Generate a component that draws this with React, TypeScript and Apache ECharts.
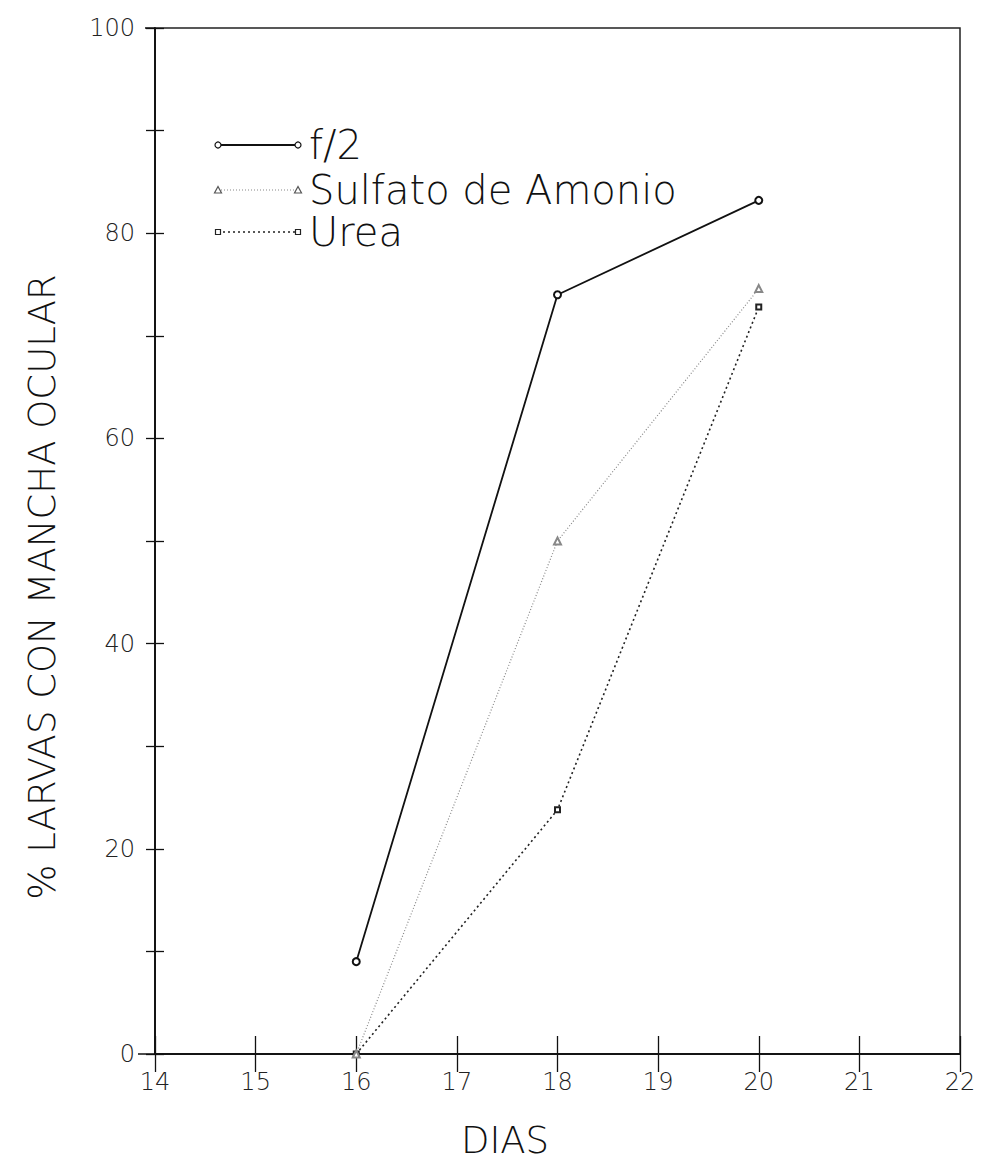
import React, { useEffect, useRef } from "react";
import * as echarts from "echarts";

const days = [16, 18, 20];
const seriesNames = ["f/2", "Sulfato de Amonio", "Urea"];
const f2Values = [9, 74, 83.2];
const sulfatoValues = [0, 50, 74.6];
const ureaValues = [0, 23.8, 72.8];
const xTicks = [14, 15, 16, 17, 18, 19, 20, 21, 22];
const yTicks = [0, 20, 40, 60, 80, 100];
const xTitle = "DIAS";
const yTitle = "% LARVAS CON MANCHA OCULAR";

const FONT = "'DejaVu Sans', sans-serif";

export default function App() {
  const ref = useRef<HTMLDivElement>(null);
  useEffect(() => {
    if (!ref.current) return;
    const chart = echarts.init(ref.current, undefined, { renderer: "svg" });
    const L = 155, R = 960, T = 28, B = 1054;
    const styles = [
      { color: "#111", type: "solid" as any, width: 1.8, symbol: "emptyCircle", size: 7 },
      { color: "#888", type: [1, 2] as any, width: 1.2, symbol: "emptyTriangle", size: 7 },
      { color: "#222", type: [2, 3] as any, width: 1.6, symbol: "emptyRect", size: 5 },
    ];
    const values = [f2Values, sulfatoValues, ureaValues];
    const legendY = [145, 190, 232];
    const legendGraphics: any[] = [];
    seriesNames.forEach((n, i) => {
      const s = styles[i];
      const y = legendY[i];
      legendGraphics.push({
        type: "line",
        shape: { x1: 218, y1: y, x2: 296, y2: y },
        style: { stroke: s.color, lineWidth: s.width, lineDash: s.type === "solid" ? null : s.type },
      });
      [218, 298].forEach((x) => {
        if (i === 0) legendGraphics.push({ type: "circle", shape: { cx: x, cy: y, r: 3 }, style: { fill: "#fff", stroke: "#111", lineWidth: 1.2 } });
        else if (i === 1) legendGraphics.push({ type: "polygon", shape: { points: [[x, y - 3.5], [x - 3.5, y + 3], [x + 3.5, y + 3]] }, style: { fill: "#fff", stroke: "#555", lineWidth: 1.2 } });
        else legendGraphics.push({ type: "rect", shape: { x: x - 2.5, y: y - 2.5, width: 5, height: 5 }, style: { fill: "#fff", stroke: "#222", lineWidth: 1.2 } });
      });
      legendGraphics.push({
        type: "text",
        x: 309,
        y: y,
        style: { text: n, fontSize: 40, fontFamily: FONT, fontWeight: 300, fill: "#111", verticalAlign: "middle", align: "left", lineHeight: 40 },
      });
    });
    legendGraphics.push(
      { type: "line", shape: { x1: 138, y1: B, x2: L, y2: B }, style: { stroke: "#111", lineWidth: 1.5 } },
      { type: "line", shape: { x1: 145, y1: T, x2: L, y2: T }, style: { stroke: "#111", lineWidth: 1.5 } },
      {
        type: "text",
        x: 505,
        y: 1140,
        style: { text: xTitle, fontSize: 37, fontFamily: FONT, fontWeight: 300, fill: "#111", align: "center", verticalAlign: "middle" },
      },
      {
        type: "text",
        x: 42,
        y: 587,
        rotation: Math.PI / 2,
        style: { text: yTitle, fontSize: 37, fontFamily: FONT, fontWeight: 300, fill: "#111", align: "center", verticalAlign: "middle" },
      }
    );

    const axisCommon = {
      axisLine: { show: true, lineStyle: { color: "#111", width: 1.5 } },
      splitLine: { show: false },
    };

    chart.setOption({
      animation: false,
      backgroundColor: "#fff",
      grid: { left: L, right: 984 - R, top: T, bottom: 1173 - B, show: true, borderColor: "#222", borderWidth: 1.5, backgroundColor: "transparent" },
      xAxis: [
        {
          type: "value",
          min: 14,
          max: 22,
          interval: 1,
          ...axisCommon,
          axisTick: { show: true, length: 18, inside: false, lineStyle: { color: "#111", width: 1.3 } },
          axisLabel: {
            margin: 16,
            fontSize: 24,
            fontFamily: FONT,
            fontWeight: 300,
            color: "#222",
            formatter: (v: number) => (xTicks.includes(v) ? String(v) : ""),
          },
        },
        {
          type: "value",
          min: 14,
          max: 22,
          interval: 1,
          position: "bottom",
          ...axisCommon,
          axisTick: { show: true, length: 18, inside: true, lineStyle: { color: "#111", width: 1.3 } },
          axisLabel: { show: false },
        },
      ],
      yAxis: [
        {
          type: "value",
          min: 0,
          max: 100,
          interval: 10,
          ...axisCommon,
          axisTick: { show: true, length: 9, inside: false, lineStyle: { color: "#111", width: 1.3 } },
          axisLabel: {
            margin: 20,
            fontSize: 24,
            fontFamily: FONT,
            fontWeight: 300,
            color: "#222",
            formatter: (v: number) => (yTicks.includes(v) ? String(v) : ""),
          },
        },
        {
          type: "value",
          min: 0,
          max: 100,
          interval: 10,
          position: "left",
          ...axisCommon,
          axisTick: { show: true, length: 9, inside: true, lineStyle: { color: "#111", width: 1.3 } },
          axisLabel: { show: false },
        },
      ],
      series: seriesNames.map((n, i) => ({
        name: n,
        type: "line",
        xAxisIndex: 0,
        yAxisIndex: 0,
        data: days.map((d, j) => [d, values[i][j]]),
        symbol: styles[i].symbol,
        symbolSize: styles[i].size,
        lineStyle: { color: styles[i].color, type: styles[i].type, width: styles[i].width },
        itemStyle: { color: styles[i].color, borderWidth: 1.2 },
        z: 3 - i,
      })),
      graphic: legendGraphics,
    });
    return () => chart.dispose();
  }, []);
  return <div ref={ref} style={{ position: "absolute", left: 0, top: 0, width: 984, height: 1173 }} />;
}
